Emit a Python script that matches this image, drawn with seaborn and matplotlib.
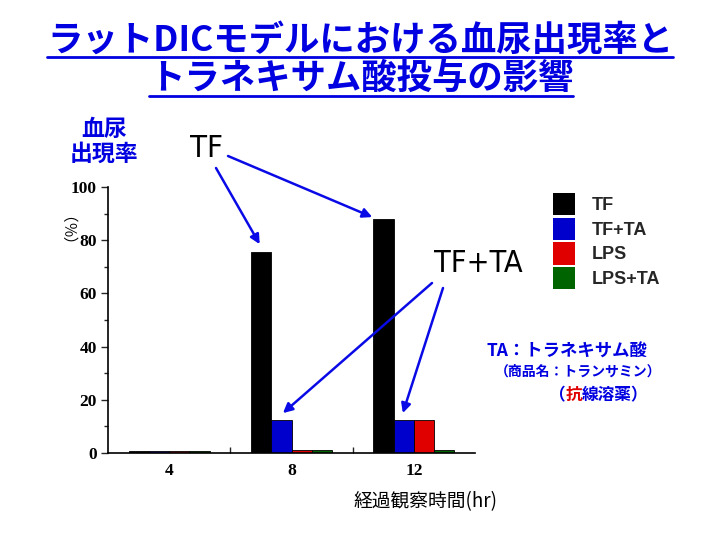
import matplotlib
matplotlib.use("Agg")
import matplotlib.pyplot as plt
import matplotlib.patches as mpatches
from matplotlib.lines import Line2D
from matplotlib.ticker import MultipleLocator, FixedLocator
import seaborn as sns
import pandas as pd

# ---- data ----
times = ["4", "8", "12"]
groups = ["TF", "TF+TA", "LPS", "LPS+TA"]
tf = [0.8, 75.7, 88.0]
tf_ta = [0.8, 12.5, 12.5]
lps = [0.8, 1.2, 12.5]
lps_ta = [0.8, 1.2, 1.2]
colors = ["#000000", "#0000CC", "#E00000", "#006400"]

title1 = "ラットDICモデルにおける血尿出現率と"
title2 = "トラネキサム酸投与の影響"
ylabel_top = "血尿\n出現率"
ylabel_unit = "（％）"
xlabel = "経過観察時間(hr)"
note1 = "TA：トラネキサム酸"
note2 = "（商品名：トランサミン）"

sns.set_style("white")
CJK = ["Noto Sans CJK JP", "DejaVu Sans"]
plt.rcParams["font.family"] = CJK
BLUE = "#0000E0"

rows = []
for g, vals in zip(groups, [tf, tf_ta, lps, lps_ta]):
    for t, v in zip(times, vals):
        rows.append({"time": t, "rate": v, "group": g})
df = pd.DataFrame(rows)

fig = plt.figure(figsize=(7.2, 5.4), dpi=100)
W, H = 720, 540
ax = fig.add_axes([108 / W, 87 / H, 367 / W, 266 / H])

sns.barplot(data=df, x="time", y="rate", hue="group", order=times,
            hue_order=groups, palette=colors, width=0.66, saturation=1,
            edgecolor="black", linewidth=0.6, legend=False, ax=ax)

ax.set_xlim(-0.5, 2.5)
ax.set_ylim(0, 100)
ax.set_xlabel("")
ax.set_ylabel("")
for s in ["top", "right"]:
    ax.spines[s].set_visible(False)
for s in ["left", "bottom"]:
    ax.spines[s].set_linewidth(1.2)
    ax.spines[s].set_color("black")

ax.yaxis.set_major_locator(MultipleLocator(20))
ax.yaxis.set_minor_locator(MultipleLocator(10))
ax.tick_params(axis="y", which="major", direction="out", length=5, width=1,
               left=True, pad=3)
ax.tick_params(axis="y", which="minor", direction="out", length=3, width=1, left=True)
ax.xaxis.set_minor_locator(FixedLocator([0.5, 1.5]))
ax.tick_params(axis="x", which="major", length=0, pad=7)
ax.tick_params(axis="x", which="minor", direction="in", length=4, width=1, bottom=True)

serif = ["Liberation Serif", "DejaVu Serif"]
for lab in ax.get_yticklabels() + ax.get_xticklabels():
    lab.set_family(serif)
    lab.set_fontweight("bold")
    lab.set_fontsize(12.5)
    lab.set_color("black")

# ---- legend ----
handles = [mpatches.Patch(facecolor=c, edgecolor="none") for c in colors]
ax.legend(handles, groups, loc="upper left",
          bbox_to_anchor=(553 / W, 1 - 193 / H), bbox_transform=fig.transFigure,
          frameon=False, borderpad=0, borderaxespad=0,
          handlelength=1.22, handleheight=1.5, labelspacing=0.15,
          handletextpad=0.95,
          prop={"family": ["Liberation Sans", "DejaVu Sans"], "weight": "bold", "size": 13})

# ---- titles ----
r = fig.canvas.get_renderer()
def underline(t, y_px):
    bb = t.get_window_extent(renderer=r)
    fig.add_artist(Line2D([bb.x0, bb.x1], [H - y_px, H - y_px],
                          transform=None, color=BLUE, lw=2))

t1 = fig.text(360 / W, 1 - 40 / H, title1, ha="center", va="center",
              fontsize=25.5, fontweight="bold", color=BLUE, family=CJK)
t2 = fig.text(361 / W, 1 - 78 / H, title2, ha="center", va="center",
              fontsize=25.5, fontweight="bold", color=BLUE, family=CJK)
underline(t1, 57)
underline(t2, 96)

fig.text(104 / W, 1 - 142 / H, ylabel_top, ha="center", va="center",
         fontsize=16.5, fontweight="bold", color=BLUE, family=CJK,
         linespacing=1.1)
fig.text(62 / W, 1 - 218 / H, ylabel_unit, ha="center", va="center",
         rotation=90, fontsize=11, color="black", family=CJK)
fig.text(425 / W, 1 - 502 / H, xlabel, ha="center", va="center",
         fontsize=13.5, color="black", family=CJK)

# ---- annotations (condensed look: fit to the reference width) ----
def fitted_text(xc, yc, s, target_w):
    t = fig.text(xc / W, 1 - yc / H, s, ha="center", va="center",
                 fontsize=27, color="black", family=["DejaVu Sans"],
                 fontstretch="condensed")
    w = t.get_window_extent(renderer=r).width
    t.set_fontsize(27 * target_w / w)
    return t

fitted_text(206, 148, "TF", 33)
fitted_text(478, 264, "TF+TA", 89)

arrow = dict(arrowstyle="-|>", color="#0A0AE6", lw=1.8, mutation_scale=14,
             shrinkA=0, shrinkB=0)
ax.annotate("", xy=(0.74, 78.5), xytext=(216, H - 168),
            textcoords="figure pixels", arrowprops=arrow)
ax.annotate("", xy=(1.66, 88.7), xytext=(228, H - 156),
            textcoords="figure pixels", arrowprops=arrow)
ax.annotate("", xy=(0.93, 15.0), xytext=(432, H - 283),
            textcoords="figure pixels", arrowprops=arrow)
ax.annotate("", xy=(1.91, 15.0), xytext=(443, H - 288),
            textcoords="figure pixels", arrowprops=arrow)

# ---- note ----
fig.text(567 / W, 1 - 352 / H, note1, ha="center", va="center",
         fontsize=12.5, fontweight="bold", color=BLUE, family=CJK)
fig.text(578 / W, 1 - 372 / H, note2, ha="center", va="center",
         fontsize=10, fontweight="bold", color=BLUE, family=CJK)

parts = [("（", BLUE), ("抗", "#E00000"), ("線溶薬）", BLUE)]
x = 549
for s, c in parts:
    t = fig.text(x / W, 1 - 395 / H, s, ha="left", va="center",
                 fontsize=12, fontweight="bold", color=c, family=CJK)
    bb = t.get_window_extent(renderer=r)
    x += bb.width

fig.savefig("out.png", dpi=100)
